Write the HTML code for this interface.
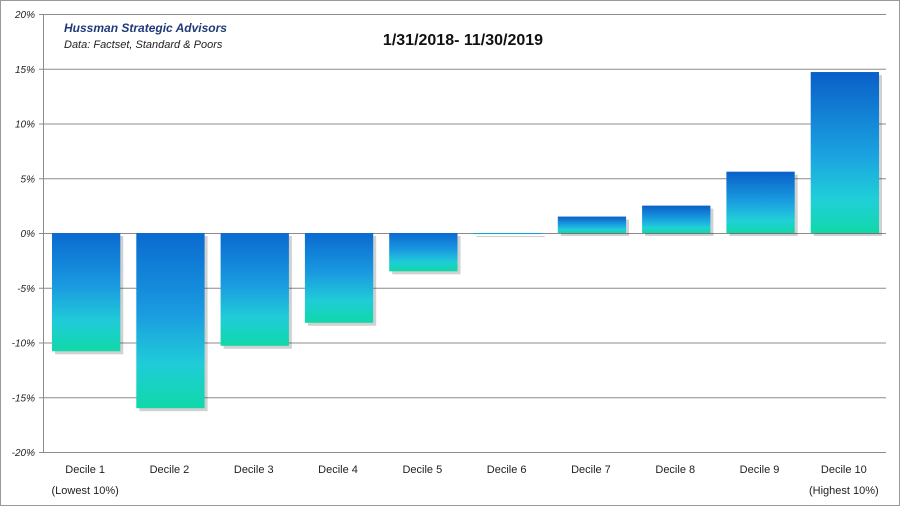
<!DOCTYPE html>
<html><head><meta charset="utf-8"><style>
body{margin:0;background:#fff}
svg{display:block;font-family:"Liberation Sans",sans-serif}
</style></head><body>
<svg id="chart" width="900" height="506" viewBox="0 0 900 506">
<defs>
<linearGradient id="gpos" x1="0" y1="0" x2="0" y2="1"><stop offset="0" stop-color="#0a5fc8"/><stop offset="0.5" stop-color="#1aa0e0"/><stop offset="0.8" stop-color="#20d0d8"/><stop offset="1" stop-color="#10d8a8"/></linearGradient>
<linearGradient id="gneg" x1="0" y1="0" x2="0" y2="1"><stop offset="0" stop-color="#0a6ad0"/><stop offset="0.45" stop-color="#1a9ae0"/><stop offset="0.75" stop-color="#20ccd8"/><stop offset="1" stop-color="#10d8a8"/></linearGradient>
</defs>
<rect x="0.5" y="0.5" width="899" height="505" fill="#fff" stroke="#999"/>
<g id="grid"></g>
<g id="bars"></g>
<g id="xlabels"></g>
<text x="64" y="32" font-size="12" font-style="italic" font-weight="bold" fill="#1f3a78">Hussman Strategic Advisors</text>
<text x="64" y="48" font-size="11" font-style="italic" fill="#222">Data: Factset, Standard &amp; Poors</text>
<text x="463" y="45" font-size="16" font-weight="bold" text-anchor="middle" fill="#111">1/31/2018- 11/30/2019</text>
</svg>
<script>
const categories=["Decile 1","Decile 2","Decile 3","Decile 4","Decile 5","Decile 6","Decile 7","Decile 8","Decile 9","Decile 10"];
const subLabels=["(Lowest 10%)","","","","","","","","","(Highest 10%)"];
const values=[-10.8,-16.0,-10.3,-8.2,-3.5,-0.1,1.5,2.5,5.6,14.7];
const yTicks=[20,15,10,5,0,-5,-10,-15,-20];
const NS="http://www.w3.org/2000/svg";
const L=43,R=886,T=14,B=452,yMax=20,yMin=-20;
const y=v=>T+(yMax-v)/(yMax-yMin)*(B-T);
const bw=(R-L)/categories.length;
const x=i=>L+i*bw;
function mk(tag,attrs,parent){const e=document.createElementNS(NS,tag);for(const k in attrs)e.setAttribute(k,attrs[k]);parent.appendChild(e);return e;}
const grid=document.getElementById('grid'),bars=document.getElementById('bars'),xl=document.getElementById('xlabels');
yTicks.forEach(t=>{
  const l=mk('line',{x1:L-4,x2:R,y1:y(t)+0.5,y2:y(t)+0.5,stroke:'#8c8c8c','stroke-width':1},grid);
  
  
  const tx=mk('text',{x:35,y:y(t)+4,'font-size':10,'font-style':'italic','text-anchor':'end',fill:'#222'},grid);
  tx.textContent=t+'%';
  
  
});
const ax=mk('line',{x1:L+0.5,x2:L+0.5,y1:T,y2:B,stroke:'#8c8c8c'},grid);


values.forEach((v,i)=>{
  const x0=x(i)+9,w=bw-16;
  const top=Math.min(y(v),y(0)),h=Math.max(1,Math.abs(y(v)-y(0)));
  const sh=mk('rect',{x:x0+3,y:top+3,width:w,height:h,fill:'#000',opacity:0.18},bars);
  
  
  const r=mk('rect',{x:x0,y:top,width:w,height:h,fill:v>=0?'url(#gpos)':'url(#gneg)'},bars);
  
  
  const t=mk('text',{x:x(i)+bw/2,y:473,'font-size':11,'text-anchor':'middle',fill:'#222'},xl);
  t.textContent=categories[i];
  
  
  if(subLabels[i]){
    const s=mk('text',{x:x(i)+bw/2,y:494,'font-size':11,'text-anchor':'middle',fill:'#222'},xl);
    s.textContent=subLabels[i];
    
    
  }
});
</script>
</body></html>
